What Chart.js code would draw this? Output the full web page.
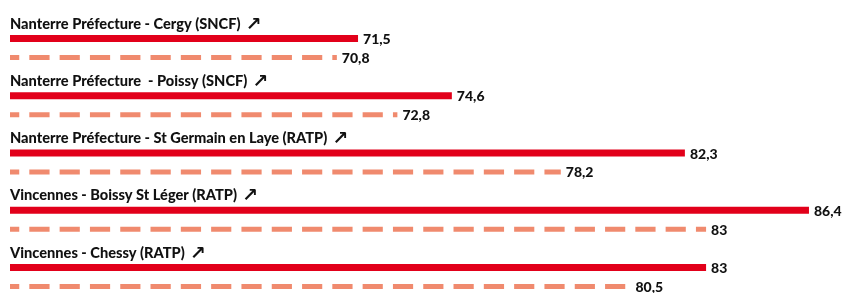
<!DOCTYPE html>
<html lang="fr">
<head>
  <meta charset="UTF-8">
  <title>Lignes - comparaison</title>
  <script src="https://cdn.jsdelivr.net/npm/chart.js@4"></script>
  <style>
    body {
      margin: 0;
      background: #fff;
    }
    .chart-box {
      position: relative;
      width: 845px;
      height: 293px;
    }
  </style>
</head>
<body>
  <div class="chart-box">
    <canvas id="lineChart"></canvas>
  </div>

  <script>
    // Data
    const routes = [
      'Nanterre Préfecture - Cergy (SNCF)',
      'Nanterre Préfecture  - Poissy (SNCF)',
      'Nanterre Préfecture - St Germain en Laye (RATP)',
      'Vincennes - Boissy St Léger (RATP)',
      'Vincennes - Chessy (RATP)'
    ];
    const currentValues = [71.5, 74.6, 82.3, 86.4, 83];
    const previousValues = [70.8, 72.8, 78.2, 83, 80.5];
    const X_MIN = 60;
    const X_MAX = 86.5;

    const RED = '#e2001a';
    const SALMON = '#f08a6e';
    const TEXT = '#111111';

    // repeating dash fill for the second series
    function dashPattern(color) {
      const c = document.createElement('canvas');
      c.width = 30;
      c.height = 10;
      const g = c.getContext('2d');
      g.fillStyle = color;
      g.fillRect(0, 0, 20, 10);
      const p = g.createPattern(c, 'repeat');
      p.setTransform(new DOMMatrix([1.01, 0, 0, 1, -1, 0]));
      return p;
    }

    const fmt = v => v.toLocaleString('fr-FR');

    // route names above each group + values at bar ends
    const labelsPlugin = {
      id: 'labels',
      afterDatasetsDraw(chart) {
        const ctx = chart.ctx;
        ctx.save();
        ctx.fillStyle = TEXT;

        const redMeta = chart.getDatasetMeta(0);
        ctx.textAlign = 'left';
        ctx.textBaseline = 'alphabetic';
        redMeta.data.forEach((bar, i) => {
          const x = chart.chartArea.left;
          const y = bar.y - 10;
          ctx.font = '900 14.6px Lato, "Open Sans", sans-serif';
          ctx.fillText(routes[i], x, y);
          const w = ctx.measureText(routes[i]).width;
          ctx.font = '700 19px "DejaVu Sans", sans-serif';
          ctx.fillText('\u2197', x + w + 5, y + 1);
        });

        ctx.font = '900 14px Lato, "Open Sans", sans-serif';
        ctx.textBaseline = 'middle';
        chart.data.datasets.forEach((ds, d) => {
          chart.getDatasetMeta(d).data.forEach((bar, i) => {
            ctx.fillText(fmt(ds.data[i]), bar.x + 5, bar.y + 1);
          });
        });
        ctx.restore();
      }
    };

    const ctx = document.getElementById('lineChart').getContext('2d');
    new Chart(ctx, {
      type: 'bar',
      data: {
        labels: routes,
        datasets: [
          {
            label: 'current',
            data: currentValues,
            backgroundColor: RED,
            borderWidth: 0,
            base: X_MIN,
            categoryPercentage: 0.658,
            barPercentage: 0.372,
            clip: false
          },
          {
            label: 'previous',
            data: previousValues,
            backgroundColor: dashPattern(SALMON),
            borderWidth: 0,
            base: X_MIN,
            categoryPercentage: 0.658,
            barPercentage: 0.266,
            clip: false
          }
        ]
      },
      options: {
        indexAxis: 'y',
        responsive: true,
        maintainAspectRatio: false,
        animation: false,
        layout: {
          padding: { left: 10, right: 33, top: 48, bottom: 16 }
        },
        plugins: {
          legend: { display: false },
          tooltip: { enabled: false }
        },
        scales: {
          x: {
            display: false,
            min: X_MIN,
            max: X_MAX
          },
          y: {
            display: false,
            offset: false
          }
        }
      },
      plugins: [labelsPlugin]
    });
  </script>
</body>
</html>
